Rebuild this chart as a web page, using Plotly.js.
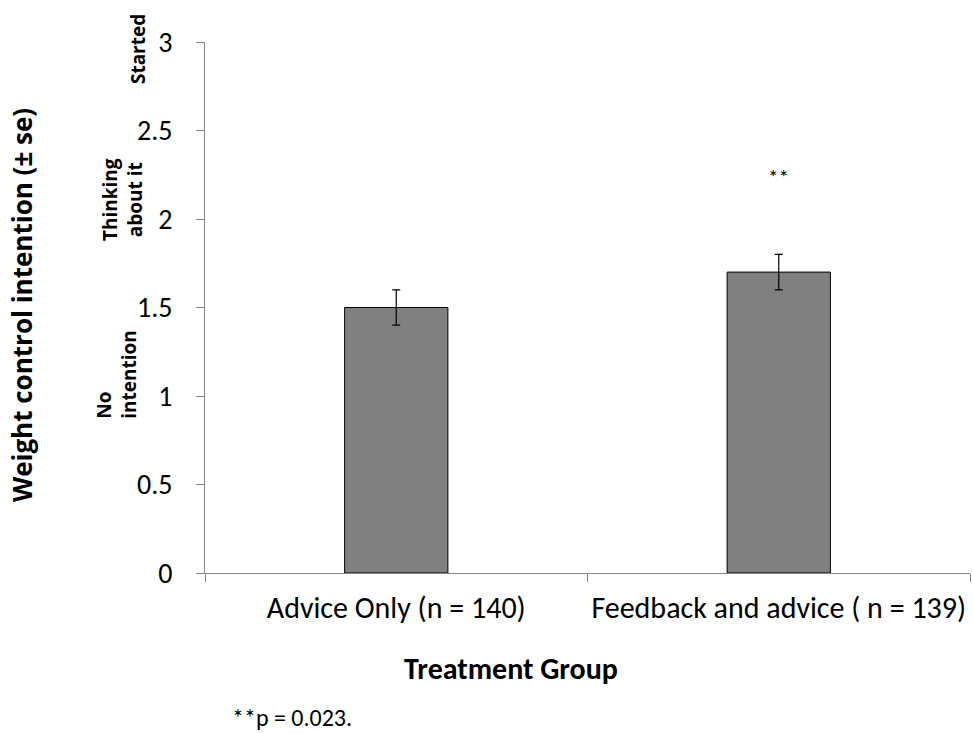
<!DOCTYPE html>
<html>
<head>
<meta charset="utf-8">
<script src="https://cdn.plot.ly/plotly-3.0.1.min.js"></script>
<style>html,body{margin:0;padding:0;background:#fff;}#chart{width:973px;height:733px;}</style>
</head>
<body>
<div id="chart"></div>
<script>
const categories = ["Advice Only (n = 140)", "Feedback and advice ( n = 139)"];
const means = [1.5, 1.7];
const stdErrors = [0.1, 0.1];
const yTickVals = [0, 0.5, 1, 1.5, 2, 2.5, 3];
const yTickText = ["0", "0.5", "1", "1.5", "2", "2.5", "3"];
const scaleLabels = ["Started", "Thinking<br>about it", "No<br>intention"];
const scaleLabelY = [2.96, 2.107, 1.12];
const sigMark = "**";
const sigValue = 2.24;
const footnote = "**p = 0.023.";
const xTitle = "Treatment Group";
const yTitle = "Weight control intention (± se)";

const FONT = "Carlito, Lato, sans-serif";
const RFONT = "'Open Sans', Carlito, sans-serif";
const axisColor = "#868686";

const L = 205, R = 3, T = 42, B = 160, W = 973, H = 733;
const pw = W - L - R, ph = H - T - B;
const px = v => (v - L) / pw;
const py = v => (H - B - v) / ph;

const trace = {
  type: "bar",
  x: categories,
  y: means,
  width: 0.27,
  marker: {color: "#808080", line: {color: "#000000", width: 1}},
  error_y: {type: "data", array: stdErrors, visible: true, color: "#000000", thickness: 1.2, width: 4},
  hoverinfo: "skip"
};

const scaleX = [138, 122, 117];
const scaleAlign = ["center", "center", "left"];
const annotations = scaleLabels.map((t, i) => ({
  text: "<b>" + t + "</b>", x: px(scaleX[i]), xref: "paper", y: scaleLabelY[i], yref: "y",
  textangle: -90, showarrow: false, xanchor: "center", yanchor: "middle", align: scaleAlign[i],
  font: {family: RFONT, size: 19, color: "#000"}
}));
annotations.push(
  {text: sigMark, x: categories[1], xref: "x", y: sigValue, yref: "y", showarrow: false,
   xanchor: "center", yanchor: "middle", font: {family: FONT, size: 21, color: "#000"}},
  {text: "<b>" + xTitle + "</b>", x: px(511), xref: "paper", y: py(668), yref: "paper", showarrow: false,
   xanchor: "center", yanchor: "middle", font: {family: FONT, size: 30, color: "#000"}},
  {text: footnote, x: px(230), xref: "paper", y: py(717), yref: "paper", showarrow: false,
   xanchor: "left", yanchor: "middle", font: {family: FONT, size: 24, color: "#000"}},
  {text: "<b>" + yTitle + "</b>", x: px(22), xref: "paper", y: py(305), yref: "paper", showarrow: false,
   textangle: -90, xanchor: "center", yanchor: "middle", font: {family: RFONT, size: 26, color: "#000"}}
);

const layout = {
  width: W, height: H,
  margin: {l: L, r: R, t: T, b: B},
  paper_bgcolor: "#fff", plot_bgcolor: "#fff",
  showlegend: false,
  font: {family: FONT, color: "#000"},
  xaxis: {
    type: "category",
    showline: true, linecolor: axisColor, linewidth: 1,
    ticks: "outside", tickson: "boundaries", ticklen: 8, tickcolor: axisColor, tickwidth: 1,
    showgrid: false, zeroline: false, tickangle: 0,
    tickfont: {family: FONT, size: 30, color: "#000"},
    ticklabelstandoff: 8
  },
  yaxis: {
    range: [0, 3],
    tickvals: yTickVals, ticktext: yTickText,
    showline: true, linecolor: axisColor, linewidth: 1,
    ticks: "outside", ticklen: 8, tickcolor: axisColor, tickwidth: 1,
    showgrid: false, zeroline: false,
    tickfont: {family: FONT, size: 28, color: "#000"},
    ticklabelstandoff: 18
  },
  annotations: annotations
};

Plotly.newPlot("chart", [trace], layout, {displayModeBar: false, staticPlot: true});
</script>
</body>
</html>
